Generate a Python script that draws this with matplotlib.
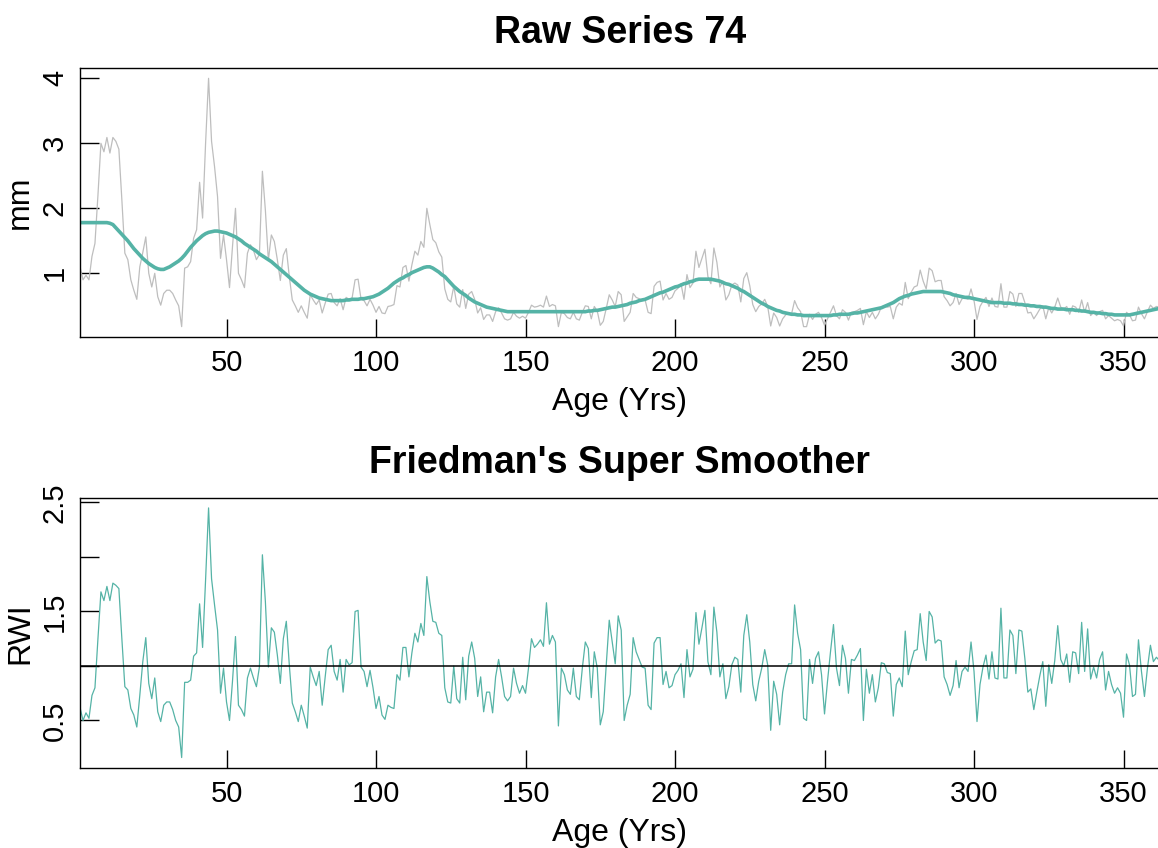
import numpy as np
import matplotlib
matplotlib.use("Agg")
import matplotlib.pyplot as plt

plt.rcParams['font.family'] = ['Liberation Sans', 'DejaVu Sans']

# ---- data ----
raw_mm = [
    1.10, 0.90, 0.97, 0.90, 1.26, 1.46, 2.20, 3.00, 2.87, 3.09,
    2.85, 3.09, 3.03, 2.91, 2.13, 1.31, 1.21, 0.90, 0.74, 0.60,
    1.10, 1.32, 1.56, 1.00, 0.79, 1.00, 0.64, 0.51, 0.69, 0.74,
    0.74, 0.69, 0.59, 0.50, 0.18, 1.08, 1.10, 1.18, 1.54, 1.67,
    2.40, 1.85, 3.00, 4.00, 3.03, 2.64, 2.18, 1.23, 1.59, 1.21,
    0.78, 1.41, 2.00, 1.00, 0.90, 0.78, 1.31, 1.44, 1.36, 1.21,
    1.29, 2.57, 1.97, 1.20, 1.59, 1.49, 1.21, 0.89, 1.28, 1.38,
    0.95, 0.59, 0.50, 0.40, 0.50, 0.40, 0.31, 0.67, 0.59, 0.52,
    0.59, 0.39, 0.54, 0.68, 0.69, 0.55, 0.50, 0.61, 0.44, 0.63,
    0.60, 0.62, 0.90, 0.91, 0.60, 0.58, 0.50, 0.60, 0.51, 0.40,
    0.49, 0.39, 0.38, 0.49, 0.50, 0.52, 0.81, 0.79, 1.09, 1.12,
    0.88, 1.13, 1.34, 1.28, 1.49, 1.40, 2.00, 1.75, 1.52, 1.47,
    1.33, 1.25, 0.76, 0.60, 0.56, 0.80, 0.53, 0.48, 0.75, 0.46,
    0.68, 0.72, 0.60, 0.39, 0.47, 0.29, 0.36, 0.36, 0.26, 0.41,
    0.47, 0.39, 0.30, 0.28, 0.30, 0.40, 0.34, 0.31, 0.34, 0.31,
    0.40, 0.51, 0.48, 0.49, 0.51, 0.48, 0.65, 0.49, 0.52, 0.50,
    0.18, 0.40, 0.38, 0.32, 0.30, 0.40, 0.30, 0.28, 0.40, 0.50,
    0.49, 0.30, 0.49, 0.42, 0.20, 0.26, 0.46, 0.67, 0.59, 0.49,
    0.72, 0.67, 0.26, 0.33, 0.40, 0.69, 0.63, 0.61, 0.58, 0.59,
    0.40, 0.38, 0.80, 0.86, 0.88, 0.59, 0.69, 0.60, 0.63, 0.73,
    0.77, 0.84, 0.60, 0.98, 0.78, 0.85, 1.34, 1.09, 1.23, 1.37,
    0.95, 0.84, 1.39, 1.17, 0.79, 0.88, 0.59, 0.67, 0.82, 0.85,
    0.82, 0.56, 0.92, 1.01, 0.81, 0.52, 0.41, 0.49, 0.53, 0.60,
    0.49, 0.19, 0.39, 0.32, 0.19, 0.30, 0.36, 0.39, 0.38, 0.58,
    0.47, 0.41, 0.18, 0.18, 0.37, 0.29, 0.37, 0.40, 0.32, 0.20,
    0.30, 0.40, 0.50, 0.35, 0.30, 0.44, 0.40, 0.28, 0.40, 0.41,
    0.43, 0.46, 0.21, 0.41, 0.32, 0.40, 0.30, 0.37, 0.48, 0.50,
    0.48, 0.49, 0.30, 0.48, 0.54, 0.51, 0.86, 0.61, 0.71, 0.79,
    0.81, 1.05, 0.88, 0.76, 1.08, 1.04, 0.87, 0.89, 0.89, 0.64,
    0.58, 0.50, 0.55, 0.69, 0.52, 0.61, 0.62, 0.60, 0.76, 0.58,
    0.29, 0.49, 0.57, 0.63, 0.49, 0.62, 0.49, 0.48, 0.84, 0.48,
    0.48, 0.72, 0.68, 0.49, 0.69, 0.69, 0.55, 0.39, 0.40, 0.30,
    0.37, 0.45, 0.50, 0.30, 0.47, 0.39, 0.48, 0.62, 0.48, 0.45,
    0.49, 0.37, 0.50, 0.48, 0.40, 0.59, 0.40, 0.55, 0.35, 0.40,
    0.35, 0.41, 0.43, 0.30, 0.35, 0.31, 0.27, 0.29, 0.27, 0.19,
    0.40, 0.36, 0.27, 0.28, 0.48, 0.38, 0.30, 0.41, 0.51, 0.46,
    0.49, 0.48,
]

smooth_mm = (
    [1.78] * 10 +
    [1.77, 1.75, 1.70, 1.65, 1.60, 1.55, 1.50, 1.44, 1.38, 1.33,
     1.28, 1.23, 1.19, 1.15, 1.12, 1.09, 1.07, 1.06, 1.06, 1.08,
     1.10, 1.13, 1.16, 1.19, 1.23, 1.28, 1.34, 1.40, 1.45, 1.50,
     1.54, 1.58, 1.61, 1.63, 1.64, 1.65, 1.65, 1.64, 1.63, 1.62,
     1.60, 1.58, 1.56, 1.53, 1.50, 1.46, 1.43, 1.40, 1.37, 1.34,
     1.30, 1.27, 1.24, 1.21, 1.18, 1.14, 1.10, 1.06, 1.02, 0.98,
     0.94, 0.90, 0.86, 0.82, 0.78, 0.74, 0.71, 0.68, 0.66, 0.64,
     0.62, 0.61, 0.60, 0.59, 0.58, 0.58, 0.58, 0.58, 0.58, 0.59,
     0.59, 0.60, 0.60, 0.60, 0.61, 0.61, 0.62, 0.63, 0.64, 0.66,
     0.68, 0.71, 0.74, 0.77, 0.81, 0.85, 0.88, 0.91, 0.93, 0.96,
     0.98, 1.01, 1.03, 1.05, 1.07, 1.09, 1.10, 1.10, 1.08, 1.05,
     1.02, 0.98, 0.95, 0.90, 0.85, 0.80, 0.76, 0.72, 0.69, 0.66,
     0.62, 0.59, 0.56, 0.54, 0.52, 0.50, 0.48, 0.47, 0.46, 0.45,
     0.44, 0.43, 0.42, 0.41] +
    [0.41] * 26 +
    [0.42, 0.42, 0.43, 0.43, 0.44, 0.45, 0.46, 0.47, 0.48, 0.48,
     0.49, 0.50, 0.51, 0.52, 0.54, 0.55, 0.56, 0.58, 0.59, 0.60,
     0.62, 0.64, 0.66, 0.68, 0.70, 0.71, 0.73, 0.75, 0.77, 0.79,
     0.80, 0.82, 0.84, 0.85, 0.87, 0.88, 0.90, 0.91, 0.91, 0.91,
     0.91, 0.91, 0.90, 0.89, 0.88, 0.86, 0.84, 0.83, 0.81, 0.79,
     0.77, 0.74, 0.72, 0.69, 0.66, 0.63, 0.60, 0.57, 0.54, 0.52,
     0.49, 0.47, 0.45, 0.43, 0.42, 0.40, 0.39, 0.38, 0.37, 0.37,
     0.36, 0.36] +
    [0.35] * 10 +
    [0.36, 0.36, 0.37, 0.37, 0.37, 0.37, 0.38, 0.39,
     0.39, 0.40, 0.41, 0.42, 0.43, 0.44, 0.45, 0.46, 0.47, 0.49,
     0.51, 0.53, 0.55, 0.58, 0.61, 0.63, 0.65, 0.66, 0.68, 0.69,
     0.70, 0.71, 0.72, 0.72, 0.72, 0.72, 0.72, 0.72, 0.72, 0.71,
     0.70, 0.69, 0.67, 0.66, 0.65, 0.64, 0.63, 0.63, 0.62, 0.61,
     0.60, 0.59, 0.58, 0.57, 0.56, 0.55, 0.55, 0.55, 0.55, 0.54,
     0.54, 0.54, 0.53, 0.53, 0.52, 0.52, 0.51, 0.51, 0.50, 0.50,
     0.49, 0.49, 0.48, 0.48, 0.47, 0.46, 0.46, 0.45, 0.45, 0.45,
     0.44, 0.44, 0.44, 0.43, 0.43, 0.42, 0.42, 0.41, 0.40, 0.40,
     0.39, 0.39, 0.38, 0.38, 0.37, 0.37, 0.36, 0.36, 0.36, 0.36,
     0.36, 0.36, 0.37, 0.38, 0.39, 0.40, 0.41, 0.42, 0.43, 0.44,
     0.45, 0.46]
)

rwi = [
    0.62, 0.50, 0.57, 0.52, 0.73, 0.80, 1.25, 1.68, 1.60, 1.73,
    1.60, 1.76, 1.74, 1.71, 1.25, 0.81, 0.78, 0.61, 0.55, 0.44,
    0.73, 1.04, 1.26, 0.84, 0.70, 0.89, 0.58, 0.49, 0.64, 0.67,
    0.67, 0.60, 0.50, 0.44, 0.16, 0.85, 0.85, 0.87, 1.09, 1.12,
    1.57, 1.17, 1.79, 2.45, 1.80, 1.56, 1.33, 0.75, 0.98, 0.67,
    0.50, 0.86, 1.27, 0.64, 0.60, 0.54, 0.89, 0.98, 0.89, 0.81,
    0.99, 2.02, 1.59, 0.99, 1.35, 1.31, 1.10, 0.84, 1.25, 1.41,
    1.01, 0.66, 0.58, 0.49, 0.64, 0.54, 0.43, 0.99, 0.90, 0.82,
    0.95, 0.64, 0.90, 1.15, 1.19, 0.95, 0.87, 1.06, 0.76, 1.06,
    1.01, 1.03, 1.50, 1.51, 0.99, 0.95, 0.81, 0.96, 0.80, 0.61,
    0.72, 0.55, 0.51, 0.64, 0.62, 0.61, 0.92, 0.87, 1.17, 1.17,
    0.90, 1.12, 1.30, 1.22, 1.39, 1.28, 1.82, 1.59, 1.41, 1.40,
    1.30, 1.28, 0.80, 0.67, 0.66, 1.00, 0.70, 0.66, 1.08, 0.69,
    1.09, 1.22, 1.07, 0.72, 0.90, 0.58, 0.76, 0.76, 0.57, 0.90,
    1.06, 0.90, 0.72, 0.68, 0.72, 0.98, 0.84, 0.75, 0.82, 0.75,
    0.98, 1.25, 1.17, 1.20, 1.24, 1.18, 1.58, 1.20, 1.28, 1.22,
    0.45, 0.98, 0.92, 0.78, 0.74, 0.98, 0.72, 0.69, 0.98, 1.22,
    1.16, 0.71, 1.13, 0.98, 0.46, 0.58, 1.01, 1.42, 1.22, 1.02,
    1.46, 1.33, 0.50, 0.64, 0.74, 1.26, 1.13, 1.06, 0.99, 0.98,
    0.64, 0.60, 1.21, 1.26, 1.26, 0.83, 0.95, 0.80, 0.82, 0.92,
    0.96, 1.02, 0.71, 1.15, 0.90, 0.97, 1.49, 1.20, 1.35, 1.51,
    1.04, 0.92, 1.54, 1.31, 0.90, 1.02, 0.70, 0.81, 1.01, 1.08,
    1.06, 0.76, 1.28, 1.47, 1.22, 0.83, 0.68, 0.86, 0.98, 1.15,
    1.01, 0.41, 0.86, 0.74, 0.46, 0.76, 0.92, 1.02, 1.02, 1.56,
    1.30, 1.15, 0.52, 0.50, 1.06, 0.84, 1.07, 1.13, 0.92, 0.56,
    0.86, 1.13, 1.38, 0.98, 0.82, 1.19, 1.07, 0.75, 1.06, 1.05,
    1.10, 1.16, 0.50, 0.97, 0.75, 0.92, 0.67, 0.80, 1.03, 1.02,
    0.94, 0.93, 0.54, 0.83, 0.89, 0.81, 1.32, 0.92, 1.04, 1.14,
    1.15, 1.48, 1.22, 1.05, 1.50, 1.45, 1.21, 1.24, 1.23, 0.90,
    0.83, 0.73, 0.82, 1.05, 0.80, 0.95, 0.99, 0.95, 1.22, 0.95,
    0.49, 0.83, 0.99, 1.10, 0.88, 1.13, 0.89, 0.88, 1.53, 0.89,
    0.89, 1.33, 1.28, 0.93, 1.33, 1.32, 1.07, 0.76, 0.79, 0.60,
    0.76, 0.91, 1.04, 0.63, 1.01, 0.84, 1.05, 1.37, 1.06, 1.00,
    1.11, 0.85, 1.13, 1.12, 0.93, 1.40, 0.95, 1.34, 0.88, 0.99,
    0.89, 1.06, 1.13, 0.78, 0.95, 0.83, 0.75, 0.80, 0.75, 0.53,
    1.11, 1.01, 0.72, 0.74, 1.24, 0.95, 0.72, 0.98, 1.19, 1.04,
    1.08, 1.05,
]

x_ticks = [50, 100, 150, 200, 250, 300, 350]
top_yticks = [1, 2, 3, 4]
bot_yticks = [0.5, 1.0, 1.5, 2.0, 2.5]
bot_ylabels = ["0.5", "", "1.5", "", "2.5"]

TEAL = "#55B3A6"
GRAY = "#BEBEBE"

W, H = 1158, 848
fig = plt.figure(figsize=(W / 100, H / 100), dpi=100)

def px_axes(left, top, right, bottom):
    return fig.add_axes([left / W, 1 - bottom / H, (right - left) / W, (bottom - top) / H])

ax1 = px_axes(80, 68.3, 1159.4, 336.7)
ax2 = px_axes(80, 498.0, 1159.4, 768.0)

yr_raw = np.arange(1, len(raw_mm) + 1)
yr_sm = np.arange(1, len(smooth_mm) + 1)
yr_rwi = np.arange(1, len(rwi) + 1)

ax1.plot(yr_raw, raw_mm, color=GRAY, lw=0.9)
ax1.plot(yr_sm, smooth_mm, color=TEAL, lw=2.6, solid_capstyle='butt')
ax1.set_xlim(1, 362)
ax1.set_ylim(0.025, 4.154)

ax2.plot(yr_rwi, rwi, color=TEAL, lw=0.9)
ax2.axhline(1.0, color='black', lw=1.1)
ax2.set_xlim(1, 362)
ax2.set_ylim(0.064, 2.541)

TICK_FS = 21
LAB_FS = 23
TITLE_FS = 27

for ax, yt in ((ax1, top_yticks), (ax2, bot_yticks)):
    for s in ax.spines.values():
        s.set_linewidth(1.0)
        s.set_color('black')
    ax.set_xticks(x_ticks)
    ax.set_xticklabels([str(t) for t in x_ticks], fontsize=TICK_FS)
    ax.set_yticks(yt)
    ax.tick_params(axis='both', direction='in', width=1.0, color='black')
    ax.tick_params(axis='x', length=13, pad=9)
    ax.tick_params(axis='y', length=14, pad=8)

ax1.set_yticklabels([str(t) for t in top_yticks], fontsize=TICK_FS, rotation=90, va='center')
ax2.set_yticklabels(bot_ylabels, fontsize=TICK_FS, rotation=90, va='center')

ax1.set_xlabel("Age (Yrs)", fontsize=LAB_FS, labelpad=7)
ax2.set_xlabel("Age (Yrs)", fontsize=LAB_FS, labelpad=7)
ax1.set_ylabel("mm", fontsize=LAB_FS, labelpad=4)
ax2.set_ylabel("RWI", fontsize=LAB_FS, labelpad=4)

ax1.set_title("Raw Series 74", fontsize=TITLE_FS, fontweight='bold', pad=18)
ax2.set_title("Friedman's Super Smoother", fontsize=TITLE_FS, fontweight='bold', pad=18)

fig.savefig("out.png", dpi=100)
